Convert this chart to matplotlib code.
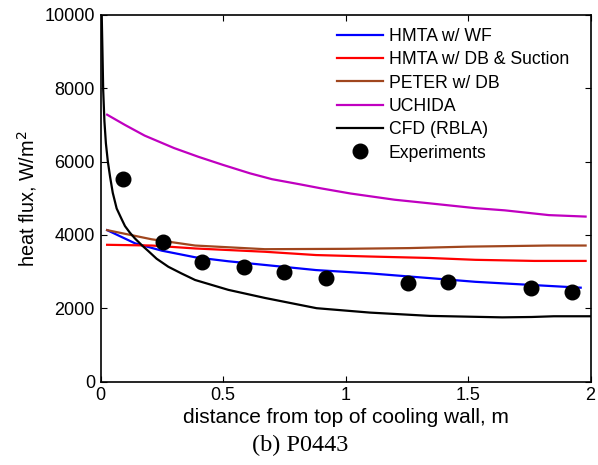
import matplotlib
matplotlib.use("Agg")
import matplotlib.pyplot as plt

# Data
x_wf = [0.027, 0.141, 0.25, 0.386, 0.522, 0.671, 0.88, 1.1, 1.345, 1.53, 1.77, 1.96]
y_wf = [4130, 3770, 3570, 3390, 3280, 3180, 3040, 2950, 2820, 2720, 2630, 2560]

x_db = [0.027, 0.209, 0.386, 0.671, 0.88, 1.1, 1.345, 1.53, 1.77, 1.98]
y_db = [3730, 3710, 3630, 3540, 3450, 3410, 3370, 3320, 3290, 3290]

x_peter = [0.027, 0.209, 0.386, 0.671, 1.0, 1.26, 1.5, 1.83, 1.98]
y_peter = [4130, 3880, 3710, 3610, 3620, 3640, 3680, 3710, 3710]

x_uchida = [0.027, 0.1, 0.18, 0.3, 0.4, 0.5, 0.61, 0.7, 0.814, 0.9, 1.02, 1.2, 1.345, 1.53, 1.65, 1.83, 1.98]
y_uchida = [7280, 7000, 6710, 6370, 6130, 5910, 5680, 5520, 5380, 5270, 5130, 4960, 4860, 4730, 4670, 4540, 4500]

x_cfd = [0.005, 0.008, 0.011, 0.016, 0.022, 0.03, 0.039, 0.05, 0.066, 0.087, 0.1, 0.12, 0.141, 0.17,
         0.195, 0.229, 0.277, 0.33, 0.386, 0.522, 0.671, 0.882, 1.1, 1.345, 1.64, 1.76, 1.85, 2.0]
y_cfd = [10000, 9000, 7950, 7100, 6500, 6000, 5590, 5150, 4720, 4420, 4240, 4060, 3900, 3710,
         3560, 3350, 3130, 2950, 2770, 2500, 2280, 2000, 1880, 1790, 1750, 1760, 1780, 1780]

x_exp = [0.092, 0.255, 0.413, 0.587, 0.749, 0.919, 1.256, 1.417, 1.756, 1.923]
y_exp = [5520, 3810, 3270, 3130, 2980, 2830, 2700, 2710, 2540, 2450]

labels = ["HMTA w/ WF", "HMTA w/ DB & Suction", "PETER w/ DB", "UCHIDA", "CFD (RBLA)", "Experiments"]
xticks = [0, 0.5, 1, 1.5, 2]
xticklabels = ["0", "0.5", "1", "1.5", "2"]
yticks = [0, 2000, 4000, 6000, 8000, 10000]

plt.rcParams['font.family'] = ['Liberation Sans', 'DejaVu Sans']

fig = plt.figure(figsize=(5.98, 4.65), dpi=100)
ax = fig.add_axes([100.5/598, 1-381.5/465, 490/598, 366.5/465])

lw = 1.6
ax.plot(x_wf, y_wf, color='#0000ff', lw=lw, label=labels[0])
ax.plot(x_db, y_db, color='#ff0000', lw=lw, label=labels[1])
ax.plot(x_peter, y_peter, color='#a0461e', lw=lw, label=labels[2])
ax.plot(x_uchida, y_uchida, color='#c000c0', lw=lw, label=labels[3])
ax.plot(x_cfd, y_cfd, color='black', lw=lw, label=labels[4])
ax.plot(x_exp, y_exp, 'o', color='black', ms=10.5, label=labels[5])

ax.set_xlim(0, 2)
ax.set_ylim(0, 10000)
ax.set_xticks(xticks)
ax.set_xticklabels(xticklabels)
ax.set_yticks(yticks)
ax.tick_params(direction='in', top=True, right=True, length=4.5, labelsize=13, width=0.8, pad=4)
for s in ax.spines.values():
    s.set_linewidth(1.2)

ax.set_xlabel("distance from top of cooling wall, m", fontsize=15, labelpad=3)
ax.set_ylabel("heat flux, W/m$^2$", fontsize=14.3, labelpad=4)

leg = ax.legend(loc='upper left', bbox_to_anchor=(0.482, 0.965), frameon=False,
                fontsize=12.7, handlelength=2.6, handletextpad=0.35,
                labelspacing=0.36, borderaxespad=0, borderpad=0, markerscale=1.0)

fig.text(300/598, 1-445/465, "(b) P0443", ha='center', va='center',
         fontsize=17.5, family=['Liberation Serif', 'DejaVu Serif'])

fig.savefig("out.png", dpi=100)
